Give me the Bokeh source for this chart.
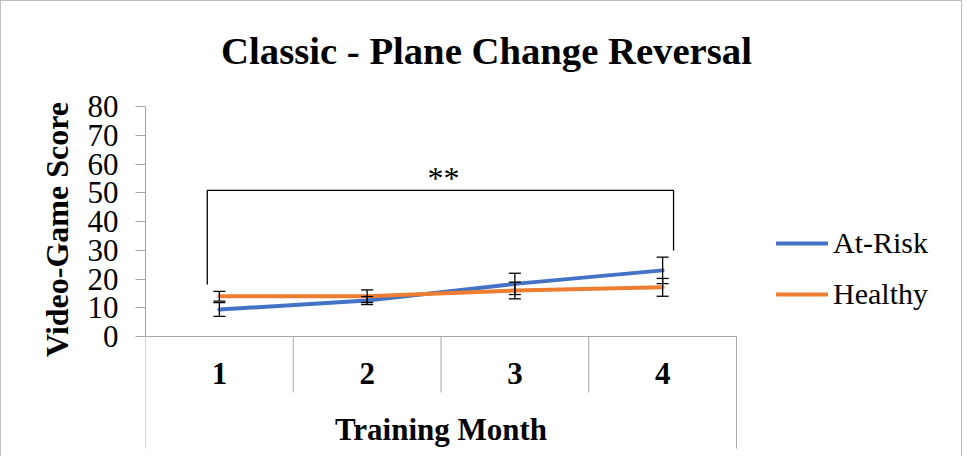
from bokeh.plotting import figure
from bokeh.models import (Range1d, FixedTicker, ColumnDataSource, Whisker, TeeHead,
                          Legend, LegendItem, Label)
from bokeh.embed import file_html
from bokeh.resources import INLINE

# ---- data ----
months = [1, 2, 3, 4]
month_labels = ["1", "2", "3", "4"]
at_risk = [9.4, 12.5, 18.3, 23.0]
at_risk_err = [2.4, 1.4, 3.7, 4.6]
healthy = [14.0, 14.0, 16.0, 17.1]
healthy_err = [1.7, 2.2, 2.9, 3.1]
y_ticks = [0, 10, 20, 30, 40, 50, 60, 70, 80]
series_names = ["At-Risk", "Healthy"]

# significance bracket (annotation, data units)
bracket_x = [0.918, 0.918, 4.074, 4.074]
bracket_y = [18.1, 50.8, 50.8, 29.9]
sig_text = "**"

title_text = "Classic - Plane Change Reversal"
x_title = "Training Month"
y_title = "Video-Game Score"

BLUE = "#4472C4"
ORANGE = "#ED7D31"
GRAY = "#A6A6A6"
FONT = "Liberation Serif"

# ---- layout (pixels) ----
W, H = 962, 456
LEFT = 144            # frame left edge
PX_CAT = 147.75       # px per category
PX_Y = 2.875          # px per score unit
ZERO_Y = 335          # pixel row of score 0 (from top of figure)

x_end = 0.5 + (W - LEFT) / PX_CAT
y_end = ZERO_Y / PX_Y
y_start = -(H - ZERO_Y) / PX_Y

p = figure(width=W, height=H, output_backend="svg", toolbar_location=None,
           x_range=Range1d(0.5, x_end), y_range=Range1d(y_start, y_end),
           min_border_left=LEFT, min_border_right=0, min_border_top=0,
           min_border_bottom=0)
p.title.visible = False
p.outline_line_color = None
p.xgrid.visible = False
p.ygrid.visible = False
p.background_fill_color = "white"
p.border_fill_color = "white"
p.styles = {"border-top": "1px solid #BFBFBF", "border-left": "1px solid #BFBFBF",
            "border-right": "1px solid #BFBFBF"}

# y axis
ya = p.yaxis[0]
ya.bounds = (0, 80)
ya.ticker = FixedTicker(ticks=y_ticks)
ya.axis_label = y_title
ya.axis_label_text_font = FONT
ya.axis_label_text_font_style = "bold"
ya.axis_label_text_font_size = "32px"
ya.axis_label_text_color = "black"
ya.axis_label_standoff = 10
ya.major_label_text_font = FONT
ya.major_label_text_font_size = "31px"
ya.major_label_text_color = "black"
ya.major_label_standoff = 17
ya.major_tick_in = 0
ya.major_tick_out = 10
ya.major_tick_line_color = GRAY
ya.minor_tick_line_color = None
ya.axis_line_color = GRAY

# x axis (drawn at score 0)
xa = p.xaxis[0]
xa.fixed_location = 0
xa.bounds = (0.5, 4.5)
xa.ticker = FixedTicker(ticks=months)
xa.major_label_overrides = {m: s for m, s in zip(months, month_labels)}
xa.major_tick_in = 0
xa.major_tick_out = 0
xa.major_tick_line_color = None
xa.minor_tick_line_color = None
xa.axis_line_color = GRAY
xa.major_label_text_font = FONT
xa.major_label_text_font_style = "bold"
xa.major_label_text_font_size = "31px"
xa.major_label_text_color = "black"
xa.major_label_standoff = 26
xa.axis_label = x_title
xa.axis_label_text_font = FONT
xa.axis_label_text_font_style = "bold"
xa.axis_label_text_font_size = "31px"
xa.axis_label_text_color = "black"
xa.axis_label_standoff = 25

# category separators below the axis (multi-level category axis look)
sep_x = [0.5, 1.5, 2.5, 3.5, 4.5]
sep_bottom = [-39.0, -19.5, -19.5, -19.5, -39.0]
p.segment(x0=sep_x, y0=[0] * len(sep_x), x1=sep_x, y1=sep_bottom,
          line_color=GRAY, line_width=1)

# series lines
r1 = p.line(months, at_risk, line_color=BLUE, line_width=4, line_cap="round", line_join="round")
r2 = p.line(months, healthy, line_color=ORANGE, line_width=4, line_cap="round", line_join="round")

# error bars
src = ColumnDataSource(dict(
    x=months,
    ar_lo=[v - e for v, e in zip(at_risk, at_risk_err)],
    ar_hi=[v + e for v, e in zip(at_risk, at_risk_err)],
    h_lo=[v - e for v, e in zip(healthy, healthy_err)],
    h_hi=[v + e for v, e in zip(healthy, healthy_err)],
))
for lo, hi in (("ar_lo", "ar_hi"), ("h_lo", "h_hi")):
    w = Whisker(base="x", lower=lo, upper=hi, source=src, dimension="height",
                line_color="black", line_width=1.3, level="overlay",
                upper_head=TeeHead(size=12, line_color="black", line_width=1.3),
                lower_head=TeeHead(size=12, line_color="black", line_width=1.3))
    p.add_layout(w)

# significance bracket
p.line(bracket_x, bracket_y, line_color="black", line_width=1.3)
p.add_layout(Label(x=2.517, y=55.3, text=sig_text, text_align="center",
                   text_baseline="alphabetic", text_font=FONT, text_font_size="32px",
                   text_color="black"))

# title
p.add_layout(Label(x=2.808, y=99.4, text=title_text, text_align="center",
                   text_baseline="alphabetic", text_font=FONT, text_font_style="bold",
                   text_font_size="38.7px", text_color="black"))

# legend
legend = Legend(items=[LegendItem(label=series_names[0], renderers=[r1]),
                       LegendItem(label=series_names[1], renderers=[r2])],
                location=(631, 140), orientation="vertical",
                glyph_width=52, glyph_height=46, label_height=46, label_standoff=5,
                spacing=5, padding=0, margin=0,
                border_line_color=None, background_fill_alpha=0,
                label_text_font=FONT, label_text_font_size="30px",
                label_text_color="black")
p.add_layout(legend, "center")

open("out.html", "w").write(file_html(p, INLINE))
